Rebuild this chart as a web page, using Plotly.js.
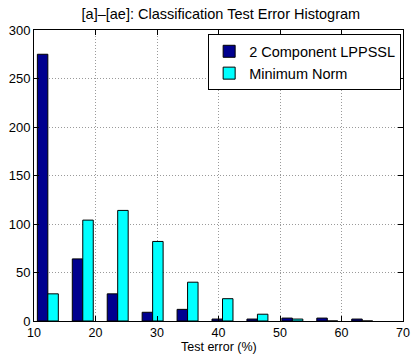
<!DOCTYPE html>
<html>
<head>
<meta charset="utf-8">
<script src="https://cdn.plot.ly/plotly-3.0.1.min.js"></script>
<style>html,body{margin:0;padding:0;background:#fff}#chart{width:412px;height:355px}</style>
</head>
<body>
<div id="chart"></div>
<script>
const binCenters = [12.25, 17.93, 23.61, 29.29, 34.97, 40.65, 46.33, 52.01, 57.69, 63.37];
const lppssl = [275, 64, 28, 9, 12, 2, 2, 3, 3, 2];
const minNorm = [28, 104, 114, 82, 40, 23, 7, 2, 0, 0];
const seriesNames = ["2 Component LPPSSL", "Minimum Norm"];
const xTicks = [10, 20, 30, 40, 50, 60, 70];
const yTicks = [0, 50, 100, 150, 200, 250, 300];

const fam = "Liberation Sans, Arial, Helvetica, sans-serif";
const font = {family: fam, size: 13, color: "#000"};

const data = [
  {type: "bar", x: binCenters, y: lppssl, name: seriesNames[0],
   marker: {color: "#00008F", line: {color: "#000", width: 1}}},
  {type: "bar", x: binCenters, y: minNorm, name: seriesNames[1],
   marker: {color: "#00FFFF", line: {color: "#000", width: 1}}}
];

const axisCommon = {
  showline: true, linecolor: "#000", linewidth: 1, mirror: "ticks",
  ticks: "inside", ticklen: 5, tickcolor: "#000",
  showgrid: true, gridcolor: "#9a9a9a", griddash: "1px,2px", gridwidth: 1,
  zeroline: false, tickfont: font
};

const layout = {
  width: 412, height: 355,
  margin: {l: 34, r: 9, t: 30, b: 34},
  paper_bgcolor: "#fff", plot_bgcolor: "#fff",
  font: font,
  title: {text: "[a]–[ae]: Classification Test Error Histogram", font: {family: fam, size: 14.5, color: "#000"},
    x: 0.536, xanchor: "center", y: 0.96, yanchor: "middle"},
  barmode: "group", bargap: 0.4, bargroupgap: 0,
  xaxis: Object.assign({}, axisCommon, {range: [10, 70], tickvals: xTicks, ticktext: xTicks.map(String),
    tickfont: {family: fam, size: 12.5, color: "#000"}}),
  yaxis: Object.assign({}, axisCommon, {range: [0, 300], tickvals: yTicks, ticktext: yTicks.map(String)}),
  annotations: [{text: "Test error (%)", xref: "paper", yref: "paper", x: 0.5, y: -0.1165,
    xanchor: "center", yanchor: "bottom", showarrow: false, borderpad: 0, font: {family: fam, size: 12.5, color: "#000"}}],
  showlegend: true,
  legend: {x: 0.995, xanchor: "right", y: 0.985, yanchor: "top", bgcolor: "#fff",
    bordercolor: "#000", borderwidth: 1, font: {family: fam, size: 14.5, color: "#000"},
    tracegroupgap: 0, itemwidth: 30}
};

Plotly.newPlot("chart", data, layout, {displayModeBar: false, staticPlot: true});
</script>
</body>
</html>
